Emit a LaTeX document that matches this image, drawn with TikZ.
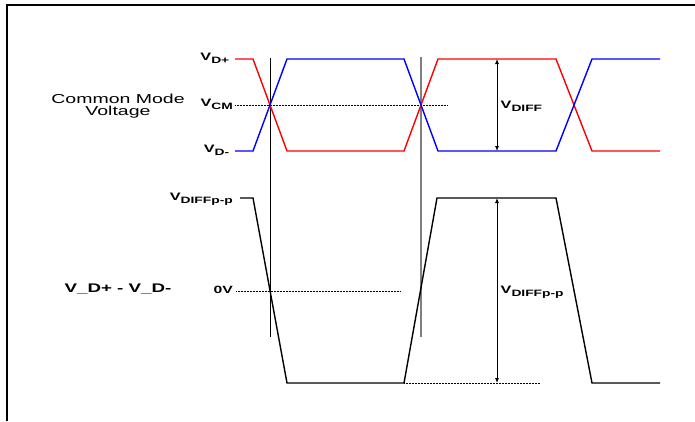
\documentclass[tikz,border=0pt]{standalone}
\usepackage{fontspec}
\setmainfont{Liberation Sans}[FakeStretch=1.5]
\usetikzlibrary{arrows.meta}
\definecolor{sigred}{RGB}{255,0,0}
\definecolor{sigblue}{RGB}{0,0,255}
\newcommand{\sigV}[1]{\fontsize{10.8}{10.8}\selectfont\bfseries V\raisebox{-2.8pt}{\fontsize{9.2}{9.2}\selectfont #1}}
\begin{document}
\begin{tikzpicture}[x=1pt,y=-1pt,
  lbl/.style={inner sep=0pt, font=\bfseries},
  wave/.style={line width=1.4pt, line join=miter},
  guide/.style={line width=0.5pt, densely dotted},
  marker/.style={line width=0.7pt},
  dim/.style={line width=0.8pt, {Latex[length=5pt,width=4pt]}-{Latex[length=5pt,width=4pt]}},
  frame/.style={line width=2pt}]
\useasboundingbox (0,0) rectangle (695,421);
% frame (only top and left visible)
\coordinate (fTL) at (6.5,4.5);
\coordinate (fTR) at (695,4.5);
\coordinate (fBL) at (6.5,421);
\draw[frame] (fBL) -- (fTL) -- (fTR);

% labels upper
\node[lbl, anchor=base east] (vdp) at (229.5,60.7) {\sigV{D+}};
\node[lbl, anchor=base east] (vcm) at (233,106.3) {\sigV{CM}};
\node[lbl, anchor=base east] (vdm) at (229.5,152.7) {\sigV{D-}};
\node[inner sep=0pt, align=center, font=\fontsize{13}{12}\selectfont] (cmv) at (118,106) {Common Mode\\Voltage};
\node[lbl, anchor=base west] (vdiff) at (500.5,108.3) {\sigV{DIFF}};

% labels lower
\node[lbl, anchor=base east] (vpp) at (233,200.5) {\sigV{DIFFp-p}};
\node[lbl, anchor=base east, font=\fontsize{10.5}{10.5}\selectfont\bfseries] (zero) at (233,293) {0V};
\node[lbl, anchor=base, font=\fontsize{12.5}{12.5}\selectfont\bfseries] (diffl) at (118,292.5) {V\_D+ - V\_D-};
\node[lbl, anchor=base west] (vpp2) at (500.5,293.3) {\sigV{DIFFp-p}};

% guide lines
\coordinate (cmEnd) at (447,105);
\draw[guide] (vcm.east |- 0,105) ++(2,0) -- (cmEnd);
\coordinate (zEnd) at (401,291);
\draw[guide] (zero.east |- 0,291) ++(3,0) -- (zEnd);
\coordinate (bS) at (404,383);
\coordinate (bE) at (540,383);
\draw[guide] (bS) -- (bE);

% vertical markers
\coordinate (m1t) at (270,58); \coordinate (m1b) at (270,337);
\coordinate (m2t) at (421,57); \coordinate (m2b) at (421,337);
\draw[marker] (m1t) -- (m1b);
\draw[line width=1.3pt, gray] (m2t) -- (m2b);

% upper waveforms
\draw[wave, sigred] (235,59) -- (253,59) -- (287,151) -- (404,151) -- (438,59) -- (556,59) -- (592,151) -- (660,151);
\draw[wave, sigblue] (235,151) -- (253,151) -- (287,59) -- (404,59) -- (438,151) -- (556,151) -- (592,59) -- (660,59);

% lower waveform
\draw[wave, black] (240,198) -- (253,198) -- (287,383) -- (404,383) -- (437,198) -- (556,198) -- (592,383) -- (660,383);

% dimension arrows
\coordinate (d1t) at (497,59); \coordinate (d1b) at (497,151);
\coordinate (d2t) at (497,198); \coordinate (d2b) at (497,383);
\draw[dim] (d1t) -- (d1b);
\draw[dim] (d2t) -- (d2b);
\end{tikzpicture}
\end{document}
